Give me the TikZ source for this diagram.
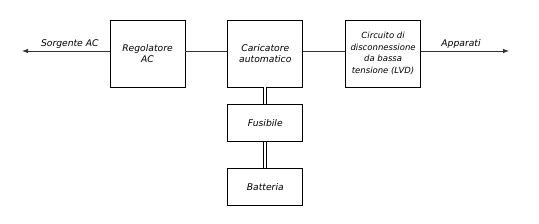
\documentclass[tikz,border=0pt]{standalone}
\usepackage{fontspec}
\setmainfont{DejaVu Sans}
\usepackage{tikz}
\usetikzlibrary{positioning, arrows.meta}

\begin{document}
\begin{tikzpicture}[x=1pt, y=-1pt, node distance=42pt, line width=0.8pt,
					box/.style={draw=black, rectangle, fill=white, minimum width=75pt, minimum height=67pt, align=center, inner sep=1pt, font=\fontsize{9.2}{11}\selectfont\itshape},
					smallbox/.style={box, minimum height=37pt},
					arrow/.style={-{Latex[length=6pt, width=4.5pt]}, draw=black!80},
					link/.style={draw=black!80},
					cable/.style={draw=black, double=white, double distance=2.2pt, line width=0.8pt},
					label/.style={font=\fontsize{9.2}{11}\selectfont\itshape, above, inner sep=2pt}
					]
					\useasboundingbox (0,0) rectangle (539,223);
					
					% Main row
					\node[box] (reg) at (147.5,53.5) {Regolatore\\AC};
					\node[box, right=of reg] (car) {Caricatore\\automatico};
					\node[box, right=of car, font=\fontsize{8.5}{11.5}\selectfont\itshape] (lvd) {Circuito di\\disconnessione\\da bassa\\tensione (LVD)};
					
					% Battery branch
					\node[smallbox, below=17pt of car] (fus) {Fusibile};
					\node[smallbox, below=26pt of fus] (bat) {Batteria};
					
					% Free ends
					\coordinate (src) at (22,51);
					\coordinate (load) at (509,51);
					
					% Connectors
					\draw[arrow] (reg.west |- src) -- node[label, xshift=4pt] {Sorgente AC} (src);
					\draw[link] (reg.east |- src) -- (car.west |- src);
					\draw[link] (car.east |- src) -- (lvd.west |- src);
					\draw[arrow] (lvd.east |- load) -- node[label, xshift=-4pt] {Apparati} (load);
					
					\draw[cable] (car.south) -- (fus.north);
					\draw[cable] (fus.south) -- (bat.north);
					
\end{tikzpicture}
\end{document}
